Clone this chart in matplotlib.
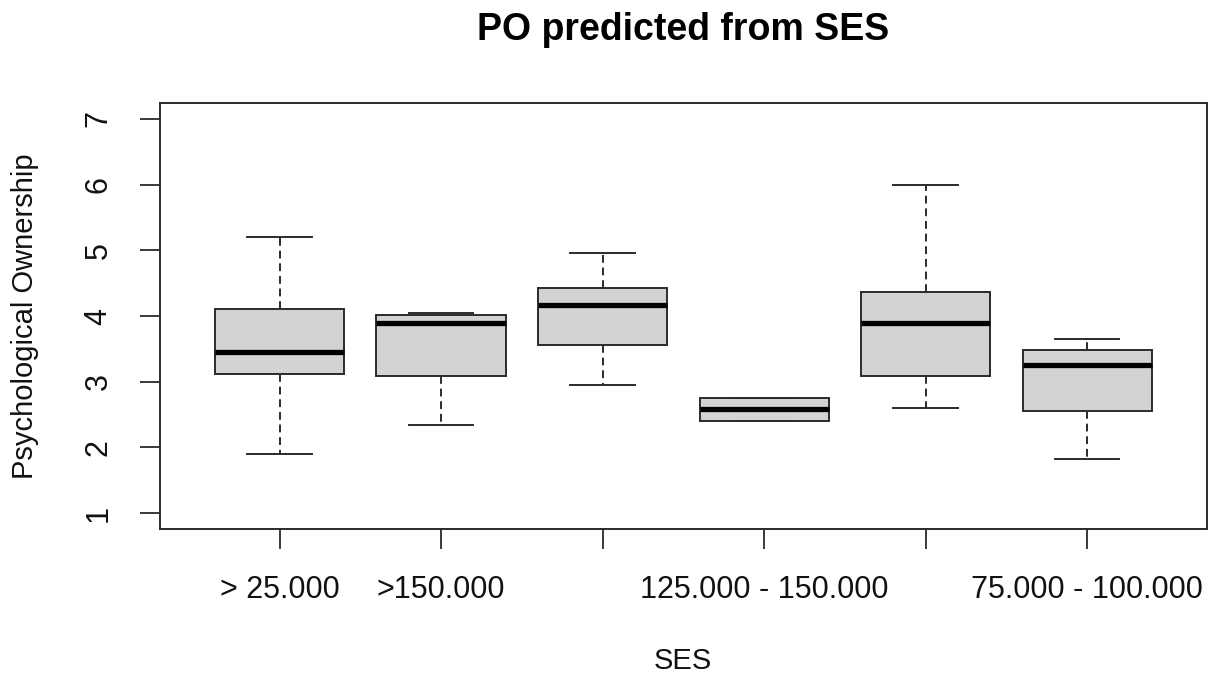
import matplotlib
matplotlib.use("Agg")
import matplotlib.pyplot as plt

plt.rcParams['font.family'] = ['Liberation Sans', 'DejaVu Sans']

# SES groups in factor order (3rd and 5th labels are dropped by R for overlap)
categories = ["> 25.000", ">150.000", "100.000 - 125.000",
              "125.000 - 150.000", "50.000 - 75.000", "75.000 - 100.000"]
tick_labels = ["> 25.000", ">150.000", "", "125.000 - 150.000", "", "75.000 - 100.000"]

# five-number summaries
whisker_low = [1.90, 2.34, 2.95, 2.41, 2.60, 1.82]
q1 = [3.12, 3.08, 3.56, 2.41, 3.08, 2.56]
median = [3.46, 3.90, 4.17, 2.58, 3.90, 3.26]
q3 = [4.10, 4.02, 4.43, 2.75, 4.36, 3.49]
whisker_high = [5.20, 4.05, 4.96, 2.75, 6.00, 3.65]

y_ticks = [1, 2, 3, 4, 5, 6, 7]

LINE = '#2b2b2b'


def main():
    fig = plt.figure(figsize=(12.16, 6.81), dpi=100)
    ax = fig.add_axes([160 / 1216, 1 - 529 / 681, 1046.7 / 1216, 426 / 681])

    stats = []
    for i, name in enumerate(categories):
        stats.append(dict(label=name, whislo=whisker_low[i], q1=q1[i], med=median[i],
                          q3=q3[i], whishi=whisker_high[i], fliers=[]))

    positions = list(range(1, len(categories) + 1))
    ax.bxp(stats, positions=positions, widths=0.8, capwidths=0.4,
           patch_artist=True, showfliers=False,
           boxprops=dict(facecolor='#d3d3d3', edgecolor=LINE, linewidth=1.4),
           medianprops=dict(color='black', linewidth=3.8, solid_capstyle='butt'),
           whiskerprops=dict(color=LINE, linewidth=1.4, linestyle=(0, (4, 2.5))),
           capprops=dict(color=LINE, linewidth=1.4))

    ax.set_xlim(0.26, 6.74)
    ax.set_ylim(0.76, 7.24)

    ax.set_xticks(positions)
    ax.set_xticklabels(tick_labels)
    ax.set_yticks(y_ticks)
    ax.set_yticklabels([str(v) for v in y_ticks])
    ax.tick_params(axis='both', direction='out', length=14.4, width=1.3,
                   color=LINE, labelsize=22, labelcolor='#111111')
    ax.tick_params(axis='x', pad=19)
    ax.tick_params(axis='y', pad=19)
    plt.setp(ax.get_yticklabels(), rotation=90, va='center')

    for sp in ax.spines.values():
        sp.set_linewidth(1.4)
        sp.set_color(LINE)

    fig.text(683 / 1216, 1 - 40 / 681, "PO predicted from SES", ha='center',
             va='baseline', fontsize=27, fontweight='bold', color='black')
    fig.text(683 / 1216, 1 - 661 / 681, "SES", ha='center', va='center',
             fontsize=21, color='#111111')
    fig.text(25 / 1216, 1 - 316 / 681, "Psychological Ownership", ha='center',
             va='center', rotation=90, fontsize=21, color='#111111')

    fig.savefig("out.png", dpi=100, facecolor='white')


if __name__ == "__main__":
    main()
